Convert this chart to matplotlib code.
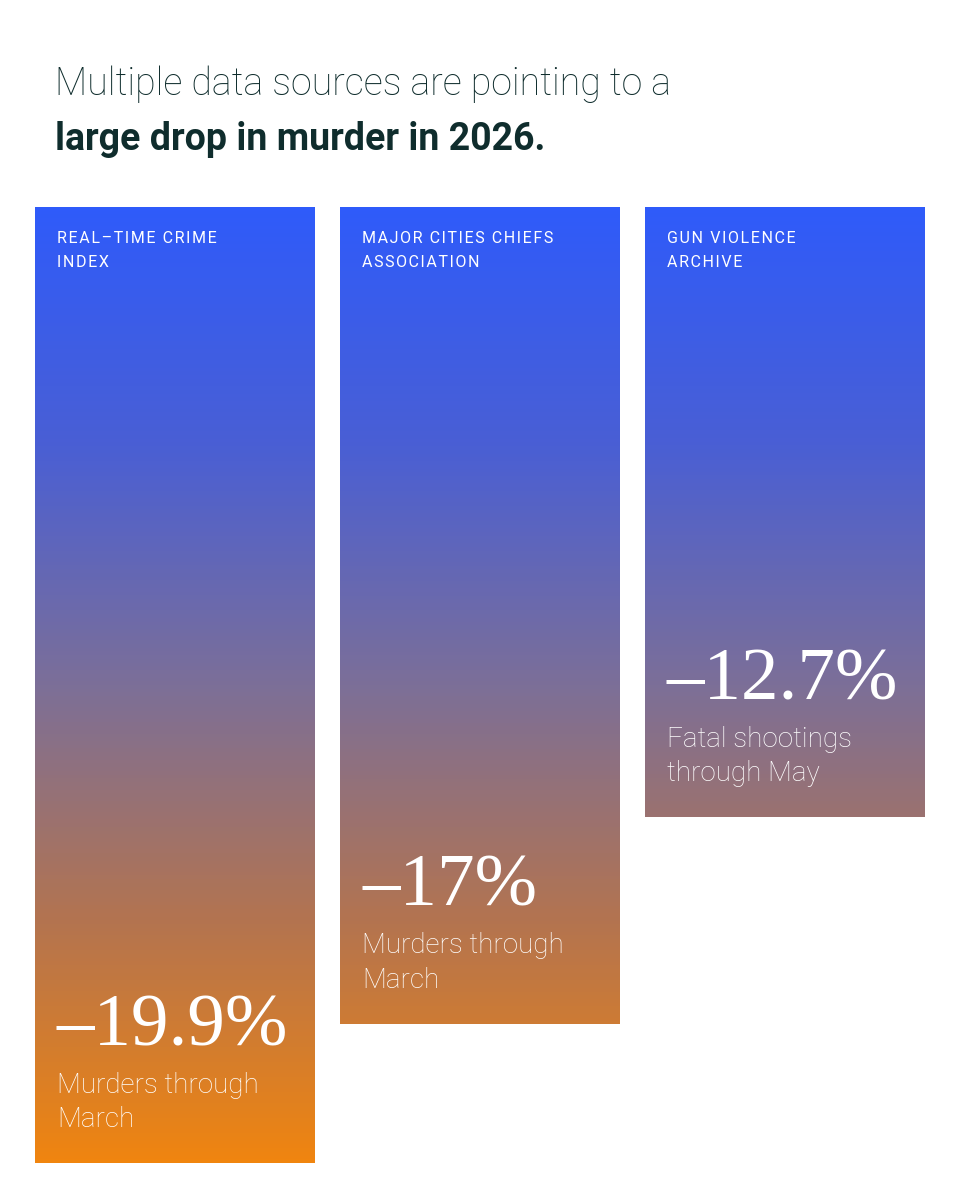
import matplotlib
matplotlib.use("Agg")
import matplotlib.pyplot as plt
import numpy as np
from matplotlib.colors import LinearSegmentedColormap
from matplotlib.patches import Rectangle

sources = ["REAL–TIME CRIME\nINDEX", "MAJOR CITIES CHIEFS\nASSOCIATION", "GUN VIOLENCE\nARCHIVE"]
values = [19.9, 17.0, 12.7]
value_labels = ["–19.9%", "–17%", "–12.7%"]
descriptions = ["Murders through\nMarch", "Murders through\nMarch", "Fatal shootings\nthrough May"]

W, H = 960, 1200
fig = plt.figure(figsize=(9.6, 12), dpi=100)
fig.patch.set_facecolor("white")

top, bottom = 207, 1163
ax = fig.add_axes([0, 1 - bottom / H, 1, (bottom - top) / H])
ax.set_xlim(0, W)
ax.set_ylim(-values[0], 0)
ax.axis("off")

cmap = LinearSegmentedColormap.from_list("g", ["#2f5bfa", "#4a5fd4", "#7c6f98", "#b4744f", "#f0850f"])
grad = np.linspace(0, 1, 256).reshape(-1, 1)
xs = [35, 340, 645]
bw = 280
for x, v, src, vl, d in zip(xs, values, sources, value_labels, descriptions):
    rect = Rectangle((x, -v), bw, v, facecolor="none", edgecolor="none")
    ax.add_patch(rect)
    im = ax.imshow(grad, cmap=cmap, aspect="auto", extent=(x, x + bw, -values[0], 0), origin="upper", zorder=1)
    im.set_clip_path(rect)
    lab = "\n".join("\u200a".join(line) for line in src.split("\n"))
    ax.text(x + 22, -0.5, lab, color="white", fontsize=11.5,
            family=["Roboto", "DejaVu Sans"], va="top", ha="left", linespacing=1.75, zorder=3)
    ax.text(x + 22, -v + 2.45, vl, color="white", fontsize=54, family="Liberation Serif",
            va="baseline", ha="left", zorder=3)
    ax.text(x + 22, -v + 1.9, d, color="white", fontsize=20, family="Roboto", fontweight="light",
            va="top", ha="left", linespacing=1.35, zorder=3)

fig.text(55 / W, 1 - 95 / H, "Multiple data sources are pointing to a", fontsize=27,
         family="Roboto", fontweight="light", color="#0f2d2d", va="baseline")
fig.text(55 / W, 1 - 150 / H, "large drop in murder in 2026.", fontsize=27,
         family="Roboto", fontweight="bold", color="#0f2d2d", va="baseline")

fig.savefig("out.png", dpi=100, facecolor="white")
